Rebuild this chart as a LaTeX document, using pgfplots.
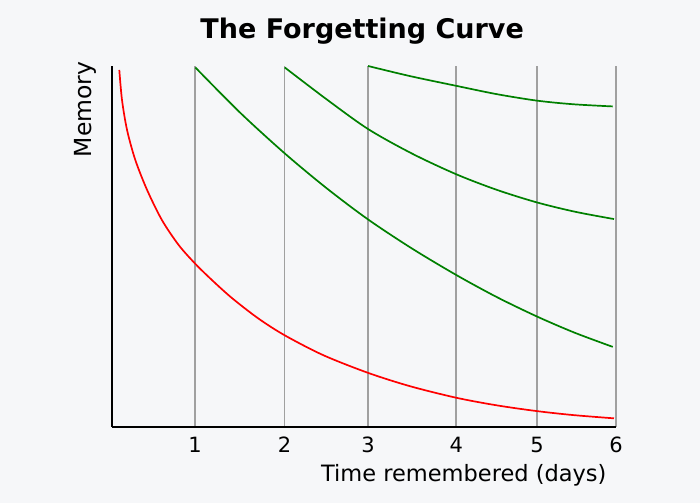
\documentclass[border=0pt]{standalone}
\usepackage{fontspec}
\setmainfont{DejaVu Sans}
\usepackage{pgfplots}
\pgfplotsset{compat=1.18}
\definecolor{bg}{HTML}{F6F7F9}
\definecolor{gridgray}{HTML}{A0A0A0}
\definecolor{curvegreen}{HTML}{008000}
\begin{document}
\begin{tikzpicture}[x=1pt,y=1pt]
\fill[bg] (0,0) rectangle (700,503);
\useasboundingbox (0,0) rectangle (700,503);
\begin{axis}[
  at={(112pt,76pt)}, anchor=south west,
  scale only axis, width=504pt, height=361pt,
  xmin=0, xmax=6, ymin=0, ymax=100,
  axis x line=bottom, axis y line=left,
  axis line style={-, black, line width=1.8pt},
  ytick=\empty,
  xtick={0.988,2.054,3.048,4.099,5.060,6},
  xticklabels={1,2,3,4,5,6},
  major tick length=0pt,
  xmajorgrids,
  grid style={gridgray, line width=1.8pt},
  /pgf/number format/assume math mode=true,
  xticklabel style={anchor=base, inner sep=0pt, yshift=-25.5pt, font=\fontsize{21}{25}\selectfont},
  every axis title shift=0pt,
  title={The Forgetting Curve},
  title style={at={(axis description cs:0.4964,1.0767)}, anchor=base, inner sep=0pt, font=\bfseries\fontsize{27}{32}\selectfont},
  xlabel={Time remembered (days)},
  xlabel style={at={(axis description cs:0.9815,-0.1500)}, anchor=base east, inner sep=0pt, font=\fontsize{22.5}{26}\selectfont},
  ylabel={Memory},
  ylabel style={at={(axis description cs:-0.0397,1.0130)}, anchor=base east, inner sep=0pt, font=\fontsize{23.5}{27}\selectfont},
  clip=false,
]
\addplot[red, line width=1.7pt, smooth] coordinates {
 (0.087,98.9) (0.119,90.6) (0.179,82.3) (0.277,74.0) (0.417,65.7) (0.595,57.3)
 (0.794,50.4) (0.992,45.2) (1.190,40.7) (1.429,35.7) (1.740,30.1) (2.056,25.4)
 (2.515,19.9) (3.048,15.0) (3.548,11.3) (4.099,8.1) (4.580,6.0) (5.060,4.4)
 (5.492,3.3) (5.976,2.4)
};
\addplot[curvegreen, line width=1.7pt, smooth] coordinates {
 (0.992,99.6) (1.524,87.1) (2.056,75.8) (2.552,66.2) (3.048,57.5) (3.574,49.4)
 (4.099,42.1) (4.580,36.0) (5.060,30.6) (5.510,26.1) (5.961,22.2)
};
\addplot[curvegreen, line width=1.7pt, smooth] coordinates {
 (2.056,99.6) (2.553,90.8) (3.051,82.5) (3.575,75.7) (4.099,70.0) (4.580,65.7)
 (5.060,62.2) (5.518,59.6) (5.976,57.6)
};
\addplot[curvegreen, line width=1.7pt, smooth] coordinates {
 (3.048,100) (3.548,97.2) (4.099,94.5) (4.580,92.2) (5.060,90.4) (5.492,89.4)
 (5.961,88.8)
};
\end{axis}
\end{tikzpicture}
\end{document}
